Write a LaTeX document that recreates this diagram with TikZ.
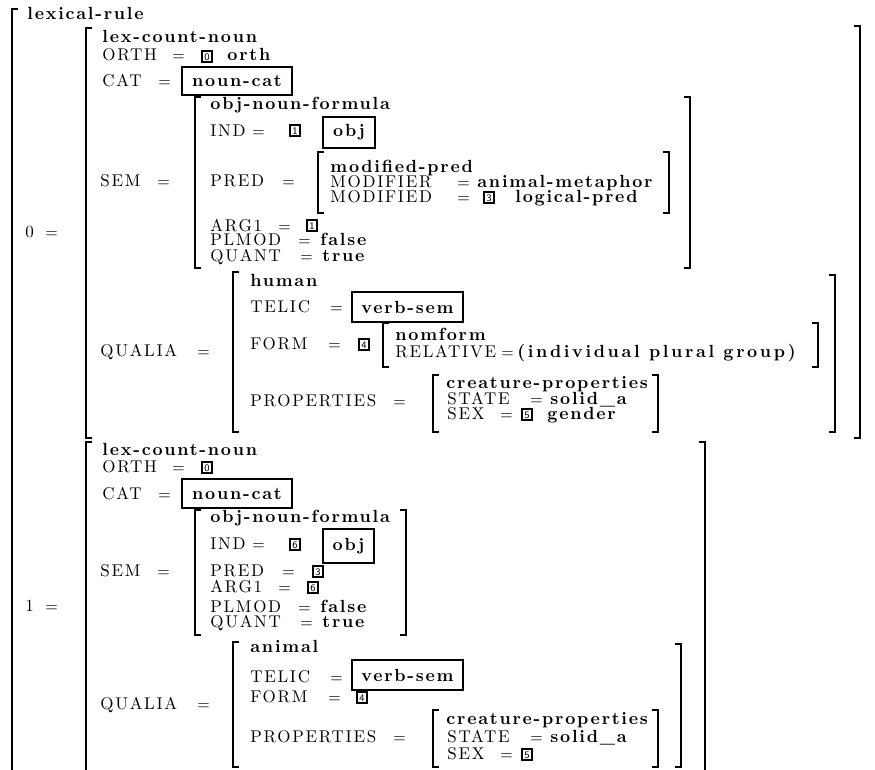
\documentclass[tikz,border=0pt]{standalone}
\usepackage{fontspec}
\newfontfamily\avmrm{lmroman10-regular}[Extension=.otf, LetterSpace=10]
\newfontfamily\avmbf{lmroman10-bold}[Extension=.otf, LetterSpace=10]
\newfontfamily\avmbfw{lmroman10-bold}[Extension=.otf, LetterSpace=15]
\begin{document}
\begin{tikzpicture}[x=0.5pt, y=-0.5pt]
\tikzset{
  fname/.style={anchor=base west, inner sep=0pt, font=\avmrm\fontsize{8.5}{9}\selectfont},
  feq/.style={anchor=base west, inner sep=0pt, font=\fontsize{7.5}{8}\selectfont},
  ftype/.style={anchor=base west, inner sep=0pt, font=\avmbf\fontsize{8.8}{10}\selectfont},
  tag/.style={draw, line width=1pt, inner sep=0pt, minimum width=5pt, minimum height=5.5pt,
              font=\fontsize{5}{5}\selectfont\sffamily},
  tbox/.style={draw, line width=1.3pt, inner sep=0pt, font=\avmbf\fontsize{8.8}{10}\selectfont},
  brk/.style={line width=1pt},
}
% left and right bracket: x, top, bottom
\newcommand\avmL[3]{\draw[brk] (#1+6,#2) -- (#1,#2) -- (#1,#3) -- (#1+6,#3);}
\newcommand\avmR[3]{\draw[brk] (#1-6,#2) -- (#1,#2) -- (#1,#3) -- (#1-6,#3);}
\useasboundingbox (0,0) rectangle (875,770);

% outermost structure
\draw[brk] (18,9) -- (12,9) -- (12,772);
\node[ftype] (lr) at (27,20) {lexical-rule};

% ---------- input sign 0 ----------
\node[fname] (n0) at (25,238) {0};
\node[feq] (n0eq) at (45,238) {=};
\avmL{86}{28}{438}
\avmR{860}{26}{438}
\node[ftype] (lcnA) at (102,43) {lex-count-noun};
\node[fname] (orthA) at (102,61) {ORTH};
\node[feq] (orthAeq) at (172,61) {=};
\node[tag] (tg0A) at (207,57) {0};
\node[ftype] (orthAv) at (227,61) {orth};
\node[fname] (catA) at (102,87) {CAT};
\node[feq] (catAeq) at (158,87) {=};
\node[tbox, minimum width=55pt, minimum height=14pt] (catAv) at (237,81) {noun-cat};

\node[fname] (semA) at (100,187) {SEM};
\node[feq] (semAeq) at (157,187) {=};
\avmL{195}{97}{268}
\avmR{690}{97}{268}
\node[ftype] (onfA) at (210,110) {obj-noun-formula};
\node[fname] (indA) at (210,137) {IND};
\node[feq] (indAeq) at (252,137) {=};
\node[tag] (tg1A) at (295,131) {1};
\node[tbox, minimum width=26pt, minimum height=15.5pt] (objA) at (349,132.5) {obj};
\node[fname] (predA) at (210,187) {PRED};
\node[feq] (predAeq) at (282,187) {=};
\avmL{318}{152}{213}
\avmR{669}{152}{213}
\node[ftype] (mpA) at (330,173) {modified-pred};
\node[fname] (mfrA) at (330,188) {MODIFIER};
\node[feq] (mfrAeq) at (457,188) {=};
\node[ftype] (mfrAv) at (477,188) {animal-metaphor};
\node[fname] (mfdA) at (330,203) {MODIFIED};
\node[feq] (mfdAeq) at (457,203) {=};
\node[tag] (tg3A) at (489,198) {3};
\node[ftype] (mfdAv) at (515,203) {logical-pred};
\node[fname] (argA) at (210,232) {ARG1};
\node[feq] (argAeq) at (278,232) {=};
\node[tag] (tg1B) at (312,226) {1};
\node[fname] (plA) at (210,246) {PLMOD};
\node[feq] (plAeq) at (298,246) {=};
\node[ftype] (plAv) at (320,246) {false};
\node[fname] (qA) at (210,262) {QUANT};
\node[feq] (qAeq) at (300,262) {=};
\node[ftype] (qAv) at (322,262) {true};

\node[fname] (quA) at (100,357) {QUALIA};
\node[feq] (quAeq) at (197,357) {=};
\avmL{233}{272}{432}
\avmR{835}{275}{432}
\node[ftype] (huA) at (250,287) {human};
\node[fname] (teA) at (250,313) {TELIC};
\node[feq] (teAeq) at (330,313) {=};
\node[tbox, minimum width=55.5pt, minimum height=15pt] (teAv) at (407.5,307) {verb-sem};
\node[fname] (foA) at (250,350) {FORM};
\node[feq] (foAeq) at (328,350) {=};
\node[tag] (tg4A) at (364,345) {4};
\avmL{383}{323}{367}
\avmR{818}{323}{367}
\node[ftype] (nfA) at (395,341) {nomform};
\node[fname] (reA) at (395,358) {RELATIVE};
\node[feq] (reAeq) at (501,358) {=};
\node[ftype, font=\avmbfw\fontsize{8.8}{10}\selectfont] (reAv) at (517,358) {(individual plural group)};
\node[fname] (prA) at (250,407) {PROPERTIES};
\node[feq] (prAeq) at (393,407) {=};
\avmL{433}{375}{432}
\avmR{658}{375}{432}
\node[ftype] (cpA) at (446,389) {creature-properties};
\node[fname] (stA) at (447,405) {STATE};
\node[feq] (stAeq) at (530,405) {=};
\node[ftype] (stAv) at (550,405) {solid\_a};
\node[fname] (sxA) at (447,420) {SEX};
\node[feq] (sxAeq) at (500,420) {=};
\node[tag] (tg5A) at (527,415) {5};
\node[ftype] (sxAv) at (547,420) {gender};

% ---------- output sign 1 ----------
\node[fname] (n1) at (25,612) {1};
\node[feq] (n1eq) at (45,612) {=};
\draw[brk] (92,442) -- (86,442) -- (86,772);
\draw[brk] (699,442) -- (705,442) -- (705,772);
\node[ftype] (lcnB) at (102,456) {lex-count-noun};
\node[fname] (orthB) at (102,473) {ORTH};
\node[feq] (orthBeq) at (172,473) {=};
\node[tag] (tg0B) at (207,468) {0};
\node[fname] (catB) at (102,500) {CAT};
\node[feq] (catBeq) at (158,500) {=};
\node[tbox, minimum width=55pt, minimum height=14.5pt] (catBv) at (237,493.5) {noun-cat};

\node[fname] (semB) at (100,577) {SEM};
\node[feq] (semBeq) at (157,577) {=};
\avmL{195}{510}{635}
\avmR{406}{510}{635}
\node[ftype] (onfB) at (210,523) {obj-noun-formula};
\node[fname] (indB) at (210,550) {IND};
\node[feq] (indBeq) at (252,550) {=};
\node[tag] (tg6A) at (295,545) {6};
\node[tbox, minimum width=25.5pt, minimum height=17pt] (objB) at (348.5,546) {obj};
\node[fname] (predB) at (210,577) {PRED};
\node[feq] (predBeq) at (282,577) {=};
\node[tag] (tg3B) at (318,572) {3};
\node[fname] (argB) at (210,593) {ARG1};
\node[feq] (argBeq) at (278,593) {=};
\node[tag] (tg6B) at (313,588) {6};
\node[fname] (plB) at (210,613) {PLMOD};
\node[feq] (plBeq) at (298,613) {=};
\node[ftype] (plBv) at (320,613) {false};
\node[fname] (qB) at (210,628) {QUANT};
\node[feq] (qBeq) at (300,628) {=};
\node[ftype] (qBv) at (322,628) {true};

\node[fname] (quB) at (100,710) {QUALIA};
\node[feq] (quBeq) at (197,710) {=};
\avmL{233}{642}{767}
\avmR{681}{644}{767}
\node[ftype] (anB) at (250,653) {animal};
\node[fname] (teB) at (250,683) {TELIC};
\node[feq] (teBeq) at (330,683) {=};
\node[tbox, minimum width=55.5pt, minimum height=15pt] (teBv) at (407.5,675) {verb-sem};
\node[fname] (foB) at (250,703) {FORM};
\node[feq] (foBeq) at (328,703) {=};
\node[tag] (tg4B) at (362,698) {4};
\node[fname] (prB) at (250,743) {PROPERTIES};
\node[feq] (prBeq) at (393,743) {=};
\avmL{433}{710}{767}
\avmR{658}{710}{767}
\node[ftype] (cpB) at (446,725) {creature-properties};
\node[fname] (stB) at (447,743) {STATE};
\node[feq] (stBeq) at (530,743) {=};
\node[ftype] (stBv) at (550,743) {solid\_a};
\node[fname] (sxB) at (447,760) {SEX};
\node[feq] (sxBeq) at (500,760) {=};
\node[tag] (tg5B) at (527,755) {5};
\end{tikzpicture}
\end{document}
